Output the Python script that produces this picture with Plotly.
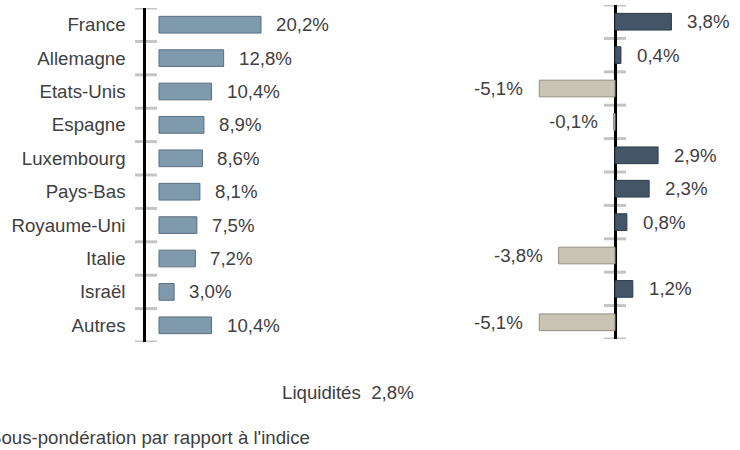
import plotly.graph_objects as go

# ---- data ----
countries = ["France", "Allemagne", "Etats-Unis", "Espagne", "Luxembourg",
             "Pays-Bas", "Royaume-Uni", "Italie", "Israël", "Autres"]
weights = [20.2, 12.8, 10.4, 8.9, 8.6, 8.1, 7.5, 7.2, 3.0, 10.4]
active = [3.8, 0.4, -5.1, -0.1, 2.9, 2.3, 0.8, -3.8, 1.2, -5.1]
liquidity_label = "Liquidités"
liquidity = 2.8
legend_label = "Sous-pondération par rapport à l'indice"

# ---- styles ----
W, H = 740, 450
FONT = "Liberation Sans, Arial, sans-serif"
FS = 18.67
TXT = "#404040"
TICK = "#c4c4c4"
LEFT_FILL, LEFT_LINE = "#7f9aad", "#5b6f80"
POS_FILL, POS_LINE = "#435566", "#2f3d4a"
NEG_FILL, NEG_LINE = "#cac4b4", "#948e80"


def fmt(v):
    return f"{v:.1f}".replace(".", ",") + "%"


def px_x(p):  # pixel -> paper fraction
    return p / W


def px_y(p):
    return (H - p) / H


# pixel geometry -> axis ranges
L_DOM = (146, 450)
L_ZERO, L_SCALE = 159, 5.05
R_DOM = (470, 740)
R_ZERO, R_SCALE = 615, 14.85

l_range = [-(L_ZERO - L_DOM[0]) / L_SCALE, (L_DOM[1] - L_ZERO) / L_SCALE]
r_range = [-(R_ZERO - R_DOM[0]) / R_SCALE, (R_DOM[1] - R_ZERO) / R_SCALE]

n = len(countries)
font = dict(size=FS, color=TXT, family=FONT)

fig = go.Figure()
fig.add_trace(go.Bar(
    x=weights, y=countries, orientation="h", xaxis="x", yaxis="y",
    width=0.5, marker=dict(color=LEFT_FILL, line=dict(color=LEFT_LINE, width=1)),
    hoverinfo="skip", showlegend=False,
))
fig.add_trace(go.Bar(
    x=active, y=countries, orientation="h", xaxis="x2", yaxis="y2",
    width=0.5,
    marker=dict(color=[POS_FILL if v >= 0 else NEG_FILL for v in active],
                line=dict(color=[POS_LINE if v >= 0 else NEG_LINE for v in active], width=1)),
    hoverinfo="skip", showlegend=False,
))

annotations = []
for c, w in zip(countries, weights):
    annotations.append(dict(x=w, y=c, xref="x", yref="y", text=fmt(w),
                            xanchor="left", xshift=13, showarrow=False, font=font))
for c, a in zip(countries, active):
    annotations.append(dict(x=a, y=c, xref="x2", yref="y2", text=fmt(a),
                            xanchor="left" if a >= 0 else "right",
                            xshift=14 if a >= 0 else -14, showarrow=False, font=font))
annotations.append(dict(x=px_x(348), y=px_y(392), xref="paper", yref="paper",
                        text=f"{liquidity_label}\u00a0 {fmt(liquidity)}",
                        xanchor="center", yanchor="middle", showarrow=False, font=font))
annotations.append(dict(x=px_x(-13), y=px_y(437), xref="paper", yref="paper",
                        text=legend_label, xanchor="left", yanchor="middle",
                        showarrow=False, font=font))

shapes = []
for i in range(n + 1):
    b = i - 0.5
    shapes.append(dict(type="line", xref="x domain", yref="y", xsizemode="pixel",
                       xanchor=0, x0=-11, x1=11, y0=b, y1=b, layer="below",
                       line=dict(color=TICK, width=3)))
    shapes.append(dict(type="line", xref="x2", yref="y2", xsizemode="pixel",
                       xanchor=0, x0=-11, x1=11, y0=b, y1=b, layer="below",
                       line=dict(color=TICK, width=3)))

fig.update_layout(
    width=W, height=H,
    margin=dict(l=0, r=0, t=0, b=0),
    paper_bgcolor="white", plot_bgcolor="rgba(0,0,0,0)",
    font=font,
    xaxis=dict(domain=[px_x(L_DOM[0]), px_x(L_DOM[1])], range=l_range, anchor="y",
               showgrid=False, zeroline=False, showticklabels=False, showline=False, ticks=""),
    xaxis2=dict(domain=[px_x(R_DOM[0]), px_x(R_DOM[1])], range=r_range, anchor="y2",
                showgrid=False, zeroline=True, zerolinecolor="black", zerolinewidth=2.5,
                showticklabels=False, showline=False, ticks=""),
    yaxis=dict(domain=[px_y(342), px_y(8)], anchor="x", type="category",
               categoryorder="array", categoryarray=countries, range=[n - 0.5, -0.5],
               showgrid=False, zeroline=False, showline=True, linecolor="black",
               linewidth=2.5, ticks="", ticklabelstandoff=14, tickfont=font),
    yaxis2=dict(domain=[px_y(339), px_y(5)], anchor="x2", type="category",
                categoryorder="array", categoryarray=countries, range=[n - 0.5, -0.5],
                showgrid=False, zeroline=False, showline=False, showticklabels=False,
                ticks=""),
    annotations=annotations,
    shapes=shapes,
)

fig.write_html("out.html", config={"displayModeBar": False},
               post_script="document.body.style.margin='0';document.body.style.overflow='hidden';")
